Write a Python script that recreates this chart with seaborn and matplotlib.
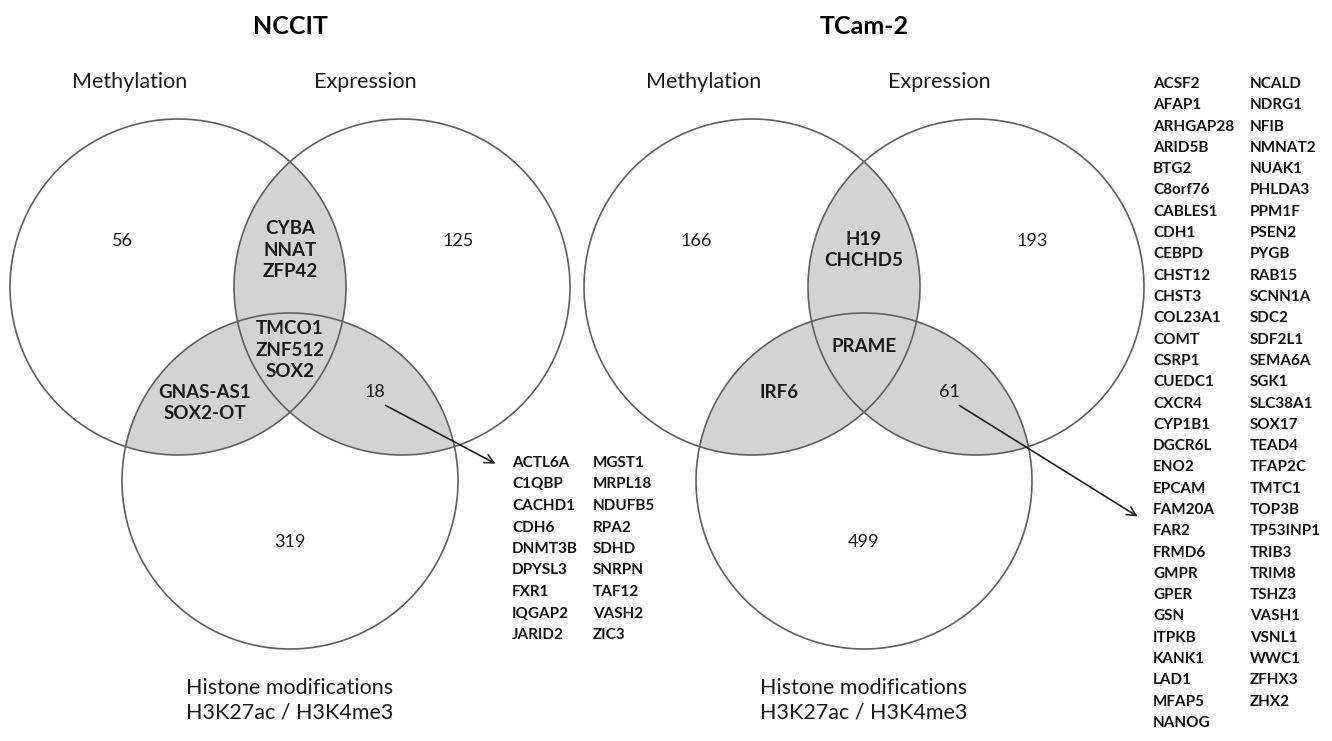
import matplotlib
matplotlib.use('Agg')
import matplotlib.pyplot as plt
import seaborn as sns
from matplotlib.patches import Circle

# ---------------------------------------------------------
# DADOS
# ---------------------------------------------------------
panels = ['NCCIT', 'TCam-2']
set_names = ['Methylation', 'Expression', 'Histone modifications\nH3K27ac / H3K4me3']

nccit_only = [56, 125, 319]          # metilação, expressão, histona
nccit_me_ex = ['CYBA', 'NNAT', 'ZFP42']
nccit_all = ['TMCO1', 'ZNF512', 'SOX2']
nccit_me_hi = ['GNAS-AS1', 'SOX2-OT']
nccit_ex_hi = 18
nccit_ex_hi_genes = ['ACTL6A', 'C1QBP', 'CACHD1', 'CDH6', 'DNMT3B', 'DPYSL3', 'FXR1', 'IQGAP2', 'JARID2',
                     'MGST1', 'MRPL18', 'NDUFB5', 'RPA2', 'SDHD', 'SNRPN', 'TAF12', 'VASH2', 'ZIC3']

tcam_only = [166, 193, 499]
tcam_me_ex = ['H19', 'CHCHD5']
tcam_all = ['PRAME']
tcam_me_hi = ['IRF6']
tcam_ex_hi = 61
tcam_ex_hi_genes = ['ACSF2', 'AFAP1', 'ARHGAP28', 'ARID5B', 'BTG2', 'C8orf76', 'CABLES1', 'CDH1', 'CEBPD',
                    'CHST12', 'CHST3', 'COL23A1', 'COMT', 'CSRP1', 'CUEDC1', 'CXCR4', 'CYP1B1', 'DGCR6L',
                    'ENO2', 'EPCAM', 'FAM20A', 'FAR2', 'FRMD6', 'GMPR', 'GPER', 'GSN', 'ITPKB', 'KANK1',
                    'LAD1', 'MFAP5', 'NANOG',
                    'NCALD', 'NDRG1', 'NFIB', 'NMNAT2', 'NUAK1', 'PHLDA3', 'PPM1F', 'PSEN2', 'PYGB',
                    'RAB15', 'SCNN1A', 'SDC2', 'SDF2L1', 'SEMA6A', 'SGK1', 'SLC38A1', 'SOX17', 'TEAD4',
                    'TFAP2C', 'TMTC1', 'TOP3B', 'TP53INP1', 'TRIB3', 'TRIM8', 'TSHZ3', 'VASH1', 'VSNL1',
                    'WWC1', 'ZFHX3', 'ZHX2']

sns.set_theme(style='white')
plt.rcParams['font.family'] = ['Lato', 'DejaVu Sans']

fig = plt.figure(figsize=(13.32, 7.41), dpi=100)
ax = fig.add_axes([0, 0, 1, 1])
ax.set_xlim(0, 1332)
ax.set_ylim(741, 0)
ax.set_aspect('equal')
ax.axis('off')

R = 168
EDGE = '#606060'
SHADE = '#d3d3d3'
TXT = '#1a1a1a'


def venn(cx, titulo, only, me_ex, todos, me_hi, ex_hi, genes, lista_x, lista_y, n_col1, dy, arrow_end):
    centros = [(cx - 112, 287), (cx + 112, 287), (cx, 481)]
    circles = [Circle(c, R, fill=False) for c in centros]
    for c in circles:
        ax.add_patch(c)
    # regiões de interseção sombreadas
    for i, j in [(0, 1), (0, 2), (1, 2)]:
        p = Circle(centros[j], R, facecolor=SHADE, edgecolor='none', zorder=1)
        ax.add_patch(p)
        p.set_clip_path(circles[i])
    for c in centros:
        ax.add_patch(Circle(c, R, fill=False, edgecolor=EDGE, lw=1.2, zorder=2))

    ax.text(cx, 26, titulo, ha='center', va='center', fontsize=18, fontweight='bold', color='black')
    ax.text(cx - 160, 82, set_names[0], ha='center', va='center', fontsize=15.5, color=TXT)
    ax.text(cx + 75, 82, set_names[1], ha='center', va='center', fontsize=15.5, color=TXT)
    ax.text(cx, 700, set_names[2], ha='center', va='center', fontsize=15.5, color=TXT,
            linespacing=1.3)

    # contagens exclusivas
    ax.text(cx - 168, 241, str(only[0]), ha='center', va='center', fontsize=13, color=TXT, zorder=3)
    ax.text(cx + 168, 241, str(only[1]), ha='center', va='center', fontsize=13, color=TXT, zorder=3)
    ax.text(cx, 542, str(only[2]), ha='center', va='center', fontsize=13, color=TXT, zorder=3)

    kw = dict(ha='center', va='center', fontsize=13.5, fontweight='bold', linespacing=1.3,
              color=TXT, zorder=3)
    ax.text(cx, 250, '\n'.join(me_ex), **kw)
    ax.text(cx, 350 if len(todos) > 1 else 346, '\n'.join(todos), **kw)
    ax.text(cx - 85, 403 if len(me_hi) > 1 else 393, '\n'.join(me_hi), **kw)

    ex_hi_pos = (cx + 85, 392)
    ax.text(ex_hi_pos[0], ex_hi_pos[1], str(ex_hi), ha='center', va='center', fontsize=13,
            color=TXT, zorder=3)
    ax.annotate('', xy=arrow_end, xytext=(ex_hi_pos[0] + 8, ex_hi_pos[1] + 12),
                arrowprops=dict(arrowstyle='->', color='#222222', lw=1.2, mutation_scale=16), zorder=3)

    # lista de genes em duas colunas
    for k, g in enumerate(genes):
        col = 0 if k < n_col1 else 1
        row = k if k < n_col1 else k - n_col1
        ax.text(lista_x[col], lista_y + row * dy, g, ha='left', va='center', fontsize=11,
                fontweight='bold', color='#111111')


venn(290, panels[0], nccit_only, nccit_me_ex, nccit_all, nccit_me_hi, nccit_ex_hi,
     nccit_ex_hi_genes, (512, 593), 463, 9, 21.5, (498, 465))

venn(864, panels[1], tcam_only, tcam_me_ex, tcam_all, tcam_me_hi, tcam_ex_hi,
     tcam_ex_hi_genes, (1153, 1250), 84, 31, 21.3, (1140, 518))

plt.savefig('out.png', dpi=100)
